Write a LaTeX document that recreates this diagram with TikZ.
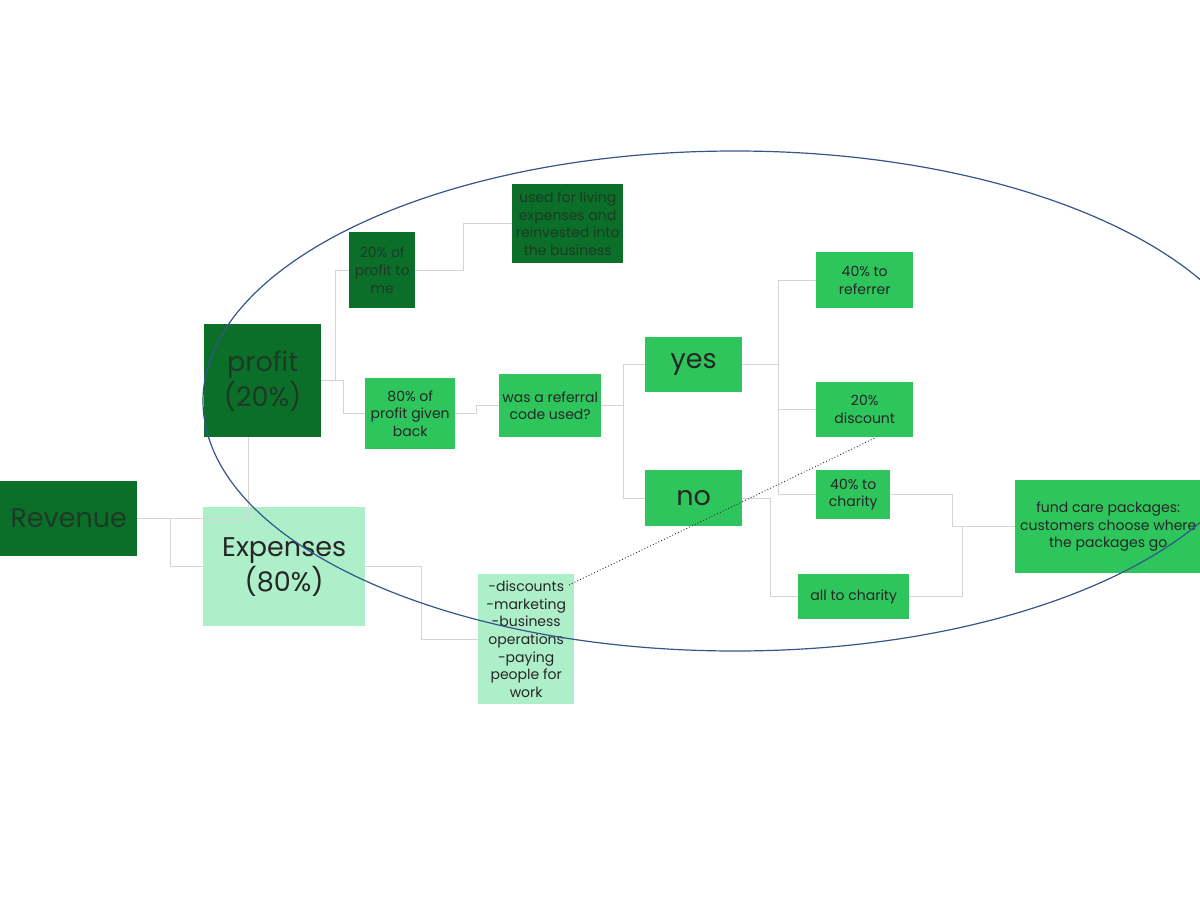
\documentclass[tikz,border=0pt]{standalone}
\usepackage{fontspec}
\setmainfont{Poppins}
\definecolor{darkg}{RGB}{11,111,42}
\definecolor{midg}{RGB}{46,197,92}
\definecolor{mint}{RGB}{173,239,200}
\definecolor{connc}{RGB}{212,212,212}
\definecolor{ellc}{RGB}{52,86,139}
\definecolor{txt}{RGB}{38,38,38}
\definecolor{txtdark}{RGB}{28,58,36}
\tikzset{
  box/.style={draw=none, inner sep=0pt, align=center, anchor=north west, text=txt,
    font=\fontsize{14}{17.6}\selectfont},
  dk/.style={box, fill=darkg, text=txtdark},
  md/.style={box, fill=midg},
  mt/.style={box, fill=mint},
  big/.style={font=\fontsize{27}{35}\selectfont},
  conn/.style={draw=connc, line width=1pt},
  dots/.style={draw=black!85, line width=0.9pt, dash pattern=on 0.9pt off 2.2pt},
  ell/.style={draw=ellc, line width=1.2pt}
}
\begin{document}
\begin{tikzpicture}[x=1pt,y=-1pt]
\useasboundingbox (0,0) rectangle (1200,900);
% boxes
\node[dk, big, minimum width=137, minimum height=75] (rev) at (0,481) {Revenue};
\node[dk, big, minimum width=117, minimum height=113] (profit) at (204,324) {profit\\(20\%)};
\node[mt, big, minimum width=162, minimum height=119] (exp) at (203,507) {Expenses\\(80\%)};
\node[dk, minimum width=66, minimum height=76] (p20) at (349,232) {20\% of\\profit to\\me};
\node[dk, minimum width=111, minimum height=79] (used) at (512,184) {used for living\\expenses and\\reinvested into\\the business};
\node[md, minimum width=90, minimum height=71] (p80) at (365,378) {80\% of\\profit given\\back};
\node[md, minimum width=102, minimum height=63] (ref) at (499,374) {was a referral\\code used?};
\node[md, big, minimum width=97, minimum height=55] (yes) at (645,337) {yes};
\node[md, big, minimum width=97, minimum height=56] (no) at (645,470) {no};
\node[md, minimum width=97, minimum height=56] (r40) at (816,252) {40\% to\\referrer};
\node[md, minimum width=97, minimum height=55] (d20) at (816,382) {20\%\\discount};
\node[md, minimum width=74, minimum height=49] (c40) at (816,470) {40\% to\\charity};
\node[md, minimum width=111, minimum height=45] (allc) at (798,574) {all to charity};
\node[md, minimum width=186, minimum height=93] (fund) at (1015,480) {fund care packages:\\customers choose where\\the packages go};
\node[mt, minimum width=96, minimum height=130] (disc) at (478,574) {-discounts\\-marketing\\-business\\operations\\-paying\\people for\\work};
% connectors
\draw[conn] (rev.east) -| ([xshift=-14.5pt]profit.south);
\draw[conn] (rev.east) -- ++(33,0) |- (exp.west);
\draw[conn] (profit.east) -- ++(14,0) |- (p20.west);
\draw[conn] (profit.east) -- ++(22,0) |- (p80.west);
\draw[conn] (p20.east) -- ++(48,0) |- (used.west);
\draw[conn] (p80.east) -- ++(21,0) |- (ref.west);
\draw[conn] (ref.east) -- ++(22,0) |- (yes.west);
\draw[conn] (ref.east) -- ++(22,0) |- (no.west);
\draw[conn] (yes.east) -- ++(36,0) |- (r40.west);
\draw[conn] (yes.east) -- ++(36,0) |- (d20.west);
\draw[conn] (yes.east) -- ++(36,0) |- (c40.west);
\draw[conn] (no.east) -- ++(28,0) |- (allc.west);
\draw[conn] (c40.east) -- ++(62,0) |- (fund.west);
\draw[conn] (allc.east) -- ++(53,0) |- (fund.west);
\draw[conn] (exp.east) -- ++(56,0) |- (disc.west);
% ellipse and dotted link
\draw[ell] (735,401) ellipse [x radius=532pt, y radius=250pt];
\coordinate (dstart) at (569,585);
\draw[dots] (dstart) -- ([xshift=11.5pt]d20.south);
\end{tikzpicture}
\end{document}
